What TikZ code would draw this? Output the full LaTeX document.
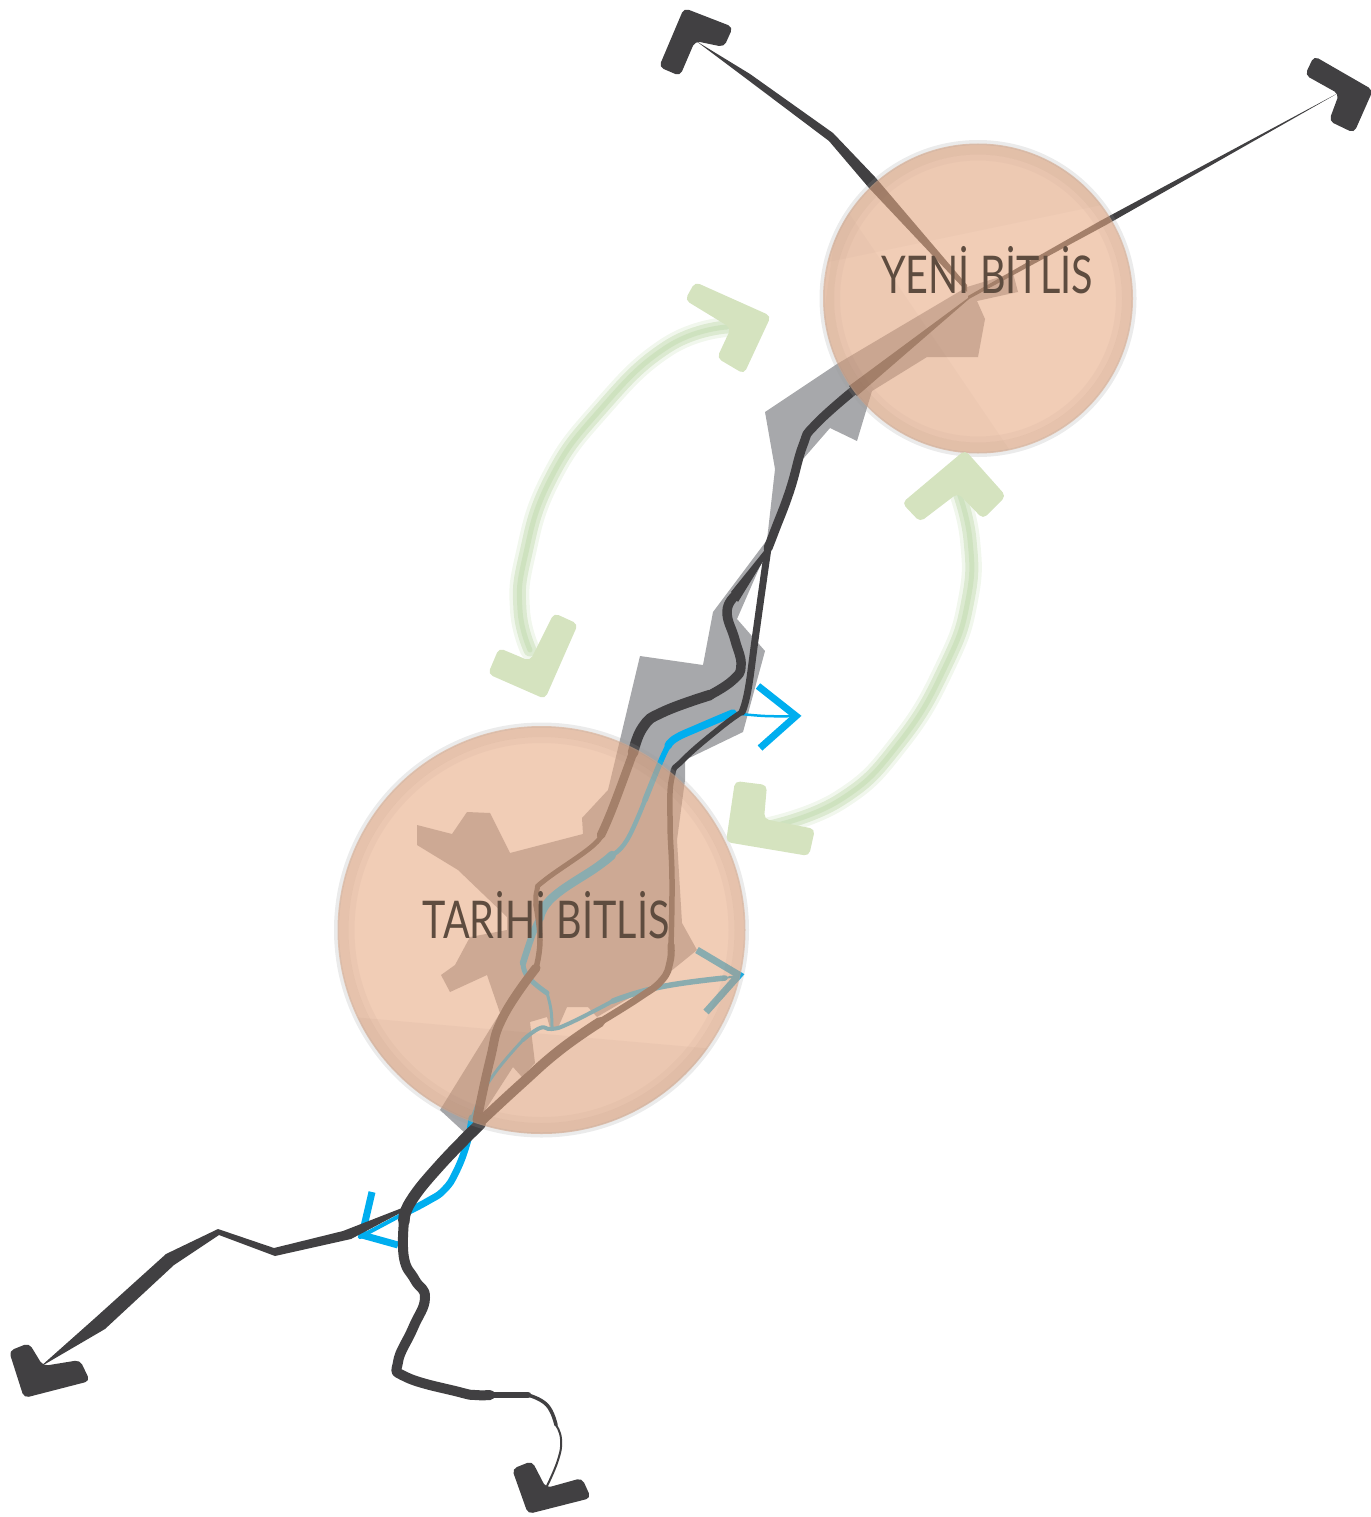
\documentclass[tikz,border=0pt]{standalone}
\usepackage{fontspec}
\newfontfamily\placefont[FakeStretch=0.76]{Lato}
\usetikzlibrary{positioning}

\definecolor{roadgray}{HTML}{414042}
\definecolor{zonegray}{HTML}{A7A8AB}
\definecolor{riverblue}{HTML}{00AEEF}
\definecolor{linkgreen}{HTML}{D5E3BF}
\definecolor{shaftgreen}{HTML}{BBD6A6}
\definecolor{circlepeach}{HTML}{E7AB85}
\definecolor{ringbrown}{HTML}{8C6A58}
\definecolor{labelbrown}{HTML}{5E4C3F}

\begin{document}
\begin{tikzpicture}[x=1pt,y=-1pt]
        \tikzstyle{road}=[draw=roadgray,line cap=round,line join=round,tension=.8]
        \tikzstyle{taper}=[fill=roadgray]
        \tikzstyle{river}=[draw=riverblue,line cap=round,line join=round,tension=.8]
        \tikzstyle{riverhead}=[draw=riverblue,line width=7pt,line join=miter]
        \tikzstyle{darkhead}=[fill=roadgray,rounded corners=5pt]
        \tikzstyle{greenhead}=[fill=linkgreen,rounded corners=5pt]
        \tikzstyle{shaft}=[draw=shaftgreen,line cap=round,tension=.8]
        \tikzstyle{disc}=[fill=circlepeach,fill opacity=.6]
        \tikzstyle{place}=[text=labelbrown,font=\placefont\fontsize{52}{52}\selectfont,anchor=base,inner sep=0pt]

        \useasboundingbox (0,0) rectangle (1370,1517);

        \coordinate (yeni) at (978,298.5);
        \coordinate (tarihi) at (541.5,930);

        % gray built-up zone
        \fill[zonegray] (967,287) -- (1013,273) -- (1018,292) -- (977,301) -- (985,319) -- (978,357)
          -- (927,357) -- (872,391) -- (857,441) -- (830,428) -- (803,459) -- (768,548) -- (737,619)
          -- (765,651) -- (743,732) -- (685,760) -- (685,780) -- (677,840) -- (682,923) -- (697,950)
          -- (660,980) -- (597,1017) -- (588,1007) -- (567,1007) -- (557,1030) -- (550,1028)
          -- (547,1017) -- (530,1022) -- (535,1063) -- (522,1077) -- (513,1067) -- (477,1123)
          -- (465,1133) -- (440,1110) -- (500,1013) -- (487,975) -- (450,992) -- (441,975)
          -- (455,965) -- (470,937) -- (507,930) -- (507,917) -- (458,870) -- (417,845)
          -- (417,825) -- (452,834) -- (467,812) -- (490,813) -- (510,853) -- (583,834)
          -- (582,818) -- (608,790) -- (640,656) -- (703,665) -- (713,612) -- (767,540)
          -- (775,469) -- (765,412) -- (837,364) -- cycle;

        % blue river and its heads
        \draw[river,line width=2.5pt] plot[smooth] coordinates {(798,716) (765,716) (733,713)};
        \draw[river,line width=7.5pt] plot[smooth] coordinates {(733,713) (700,727) (676,738) (668,746)};
        \draw[river,line width=5.5pt] plot[smooth] coordinates {(668,746) (660,763) (645,800)};
        \draw[river,line width=4.5pt] plot[smooth] coordinates {(645,800) (627,840) (612,855)};
        \draw[river,line width=8.5pt] plot[smooth] coordinates {(612,855) (597,867) (553,897) (540,918)};
        \draw[river,line width=6.5pt] plot[smooth] coordinates {(540,918) (533,933) (523,963)};
        \draw[river,line width=5pt] plot[smooth] coordinates {(523,963) (528,977) (547,993)};
        \draw[river,line width=3pt] plot[smooth] coordinates {(547,993) (551,1010) (552,1028)};
        \draw[river,line width=2pt] (742,975) -- (725,978);
        \draw[river,line width=5.5pt] plot[smooth] coordinates {(725,978) (660,987) (613,1001)};
        \draw[river,line width=4pt] plot[smooth] coordinates {(613,1001) (570,1023) (552,1029) (540,1028) (523,1040)};
        \draw[river,line width=3pt] plot[smooth] coordinates {(523,1040) (490,1080) (472,1118)};
        \draw[river,line width=7pt] plot[smooth] coordinates {(472,1118) (467,1143) (456,1172) (444,1190) (428,1201) (405,1213)};
        \draw[river,line width=4pt] (405,1213) -- (360,1237);
        \draw[riverhead] (758,686) -- (796,716) -- (760,748);
        \draw[riverhead] (697,950) -- (739,975) -- (706,1012);
        \draw[riverhead] (372,1192) -- (362,1235) -- (398,1245);

        % roads
        \fill[taper] (696,41) -- (750,74) -- (833,133) -- (875,177) -- (967,285) -- (967,292) -- (869,188) -- (829,141) -- (748,80) -- cycle;
        \fill[taper] (968,296) -- (1100,221) -- (1340,92) -- (1106,225) -- (968,299.5) -- cycle;
        \fill[taper] (968,298) -- (849,386) -- (857,396) -- (969,299) -- cycle;
        \draw[road,line width=9pt] plot[smooth] coordinates {(853,391) (815,425) (803,445) (790,490) (775,530) (768,548)};
        \draw[road,line width=7pt] plot[smooth] coordinates {(768,548) (762,590) (755,640) (748,690) (742,712)};
        \draw[road,line width=5.5pt] plot[smooth] coordinates {(742,712) (720,728) (683,760) (672,777) (670,820) (672,880) (671,945)};
        \draw[road,line width=7pt] plot[smooth] coordinates {(671,945) (670,962) (662,980) (640,997) (600,1022)};
        \draw[road,line width=10pt] plot[smooth] coordinates {(600,1022) (560,1050) (520,1085) (480,1122)};
        \fill[taper] (768,546) -- (731,592) -- (738,602) -- (770,550) -- cycle;
        \draw[road,line width=9.5pt] plot[smooth] coordinates {(735,596) (727,612) (735,640) (741,665) (733,680) (710,695)};
        \draw[road,line width=10.5pt] plot[smooth] coordinates {(710,695) (663,712) (643,727) (633,753)};
        \draw[road,line width=8.5pt] plot[smooth] coordinates {(633,753) (613,807) (601,835)};
        \draw[road,line width=5pt] plot[smooth] coordinates {(601,835) (590,848) (545,880) (537,890) (536,905)};
        \draw[road,line width=5.5pt] plot[smooth] coordinates {(536,905) (540,940) (536,968)};
        \draw[road,line width=9pt] plot[smooth] coordinates {(536,968) (503,1017) (490,1060) (477,1120)};
        \draw[road,line width=11.5pt] plot[smooth] coordinates {(480,1124) (440,1165) (411,1201) (404,1221)};
        \draw[road,line width=10pt] plot[smooth] coordinates {(404,1221) (404,1258) (415,1280) (425,1298) (413,1328) (398,1362) (406,1377) (459,1392) (475,1395) (490,1395)};
        \draw[road,line width=6.5pt] (490,1395) -- (528,1395);
        \draw[road,line width=3.5pt] plot[smooth] coordinates {(528,1395) (547,1405) (556,1425)};
        \draw[road,line width=2pt] plot[smooth] coordinates {(556,1425) (561,1439) (558,1460) (546,1488)};
        \fill[taper] (40,1367) -- (94,1319) -- (166,1254) -- (218,1229) -- (274,1248) -- (343,1231) -- (402,1208)
          -- (402,1212) -- (351,1239) -- (275,1256) -- (219,1235) -- (174,1265) -- (105,1329) -- cycle;

        % end marks
        \fill[darkhead] (684,8) -- (733,27) -- (724,47) -- (695,41) -- (680,76) -- (659,67) -- cycle;
        \fill[darkhead] (1373,90) -- (1354,133) -- (1329,121) -- (1339,94) -- (1305,75) -- (1314,56) -- cycle;
        \fill[darkhead] (24,1398) -- (9,1351) -- (29,1343) -- (43,1366) -- (80,1360) -- (90,1381) -- cycle;
        \fill[darkhead] (528,1514) -- (512,1469) -- (532,1461) -- (546,1488) -- (582,1478) -- (591,1498) -- cycle;

        % circles
        \foreach \c/\r in {yeni/157,tarihi/206}{
          \fill[disc] (\c) circle ({\r-2});
          \draw[black!40,opacity=.2,line width=5pt] (\c) circle ({\r-1});
          \draw[ringbrown,opacity=.1,line width=10pt] (\c) circle ({\r-8});
          \draw[ringbrown,opacity=.05,line width=6pt] (\c) circle ({\r-16});
        }
        \begin{scope}
          \clip (yeni) circle (155);
          \fill[ringbrown,opacity=.035] (800,268) -- (1140,197) -- (1140,100) -- (800,100) -- cycle;
          \fill[ringbrown,opacity=.035] (840,200) -- (1030,480) -- (800,480) -- cycle;
        \end{scope}
        \begin{scope}
          \clip (tarihi) circle (204);
          \fill[ringbrown,opacity=.05] (330,1015) -- (760,1053) -- (760,1150) -- (330,1150) -- cycle;
        \end{scope}

        % green exchange arrows
        \foreach \w/\o in {20/.2,13/.4,5/.4}{
          \draw[shaft,line width=\w pt,opacity=\o] plot[smooth] coordinates {(727,327) (667,347) (600,410) (550,480) (525,557) (520,610) (530,650)};
          \draw[shaft,line width=\w pt,opacity=\o] plot[smooth] coordinates {(958,490) (970,540) (968,600) (946,665) (900,742) (840,800) (765,828)};
        }
        \fill[greenhead] (771,316) -- (744,374) -- (717,358) -- (731,328) -- (685,300) -- (695,282) -- cycle;
        \fill[greenhead] (545,699) -- (488,674) -- (499,648) -- (530,661) -- (554,613) -- (578,624) -- cycle;
        \fill[greenhead] (965,450) -- (1006,496) -- (983,519) -- (958,493) -- (920,522) -- (902,503) -- cycle;
        \fill[greenhead] (726,842) -- (735,781) -- (767,785) -- (764,819) -- (815,829) -- (809,856) -- cycle;

        \node[place] (yenilabel) at (987,293) {YENİ BİTLİS};
        \node[place] (tarihilabel) at (546,938) {TARİHİ BİTLİS};
\end{tikzpicture}
\end{document}
